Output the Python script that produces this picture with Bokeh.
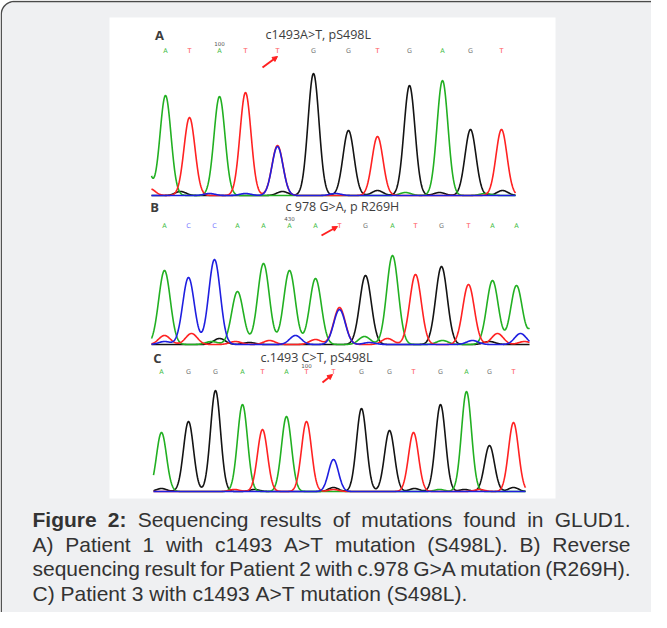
import numpy as np
from bokeh.plotting import figure
from bokeh.models import Range1d, Arrow, NormalHead
from bokeh.core.properties import value
from bokeh.embed import file_html
from bokeh.resources import INLINE

# ---------------- data ----------------
# Panel A
A_calls = ["A", "T", "A", "T", "T", "G", "G", "T", "G", "A", "G", "T"]
A_call_scan = [14, 38, 68, 94, 126, 162, 197, 226, 258, 291, 319, 350]
A_call_height = [100, 78, 99, 103, 50, 122, 65, 59, 110, 115, 66, 66]
A_extra_base = ["C", "A", "T", "G", "C", "C", "G", "C", "G", "A", "G", "A", "G"]
A_extra_scan = [126, -9, -2, 29, 58, 94, 131, 184, 226, 254, 288, 334, 351]
A_extra_height = [49, 60, 7, 4, 2, 2, 4, 2, 5, 3, 3, 2, 5]
A_title = "c1493A>T, pS498L"
A_number = "100"

# Panel B
B_calls = ["A", "C", "C", "A", "A", "A", "A", "T", "G", "A", "T", "G", "T", "A", "A"]
B_call_scan = [13, 37, 63, 86, 112, 138, 164, 188, 214, 241, 264, 290, 317, 341, 365]
B_call_height = [74, 67, 85, 53, 81, 74, 66, 37, 69, 89, 70, 78, 60, 64, 59]
B_extra_base = ["C", "T", "C", "T", "G", "A", "T", "G", "T", "C", "T", "A", "T", "C",
                "A", "C", "G", "T", "C", "T", "A"]
B_extra_scan = [188, 13, 13, 40, 68, 60, 84, 98, 118, 144, 164, 213, 236, 218,
                291, 321, 338, 346, 369, 373, 386]
B_extra_height = [35, 9, 3, 11, 6, 3, 3, 2, 4, 9, 5, 8, 6, 2, 4, 4, 3, 11, 11, 3, 30]
B_title = "c 978 G>A, p R269H"
B_number = "430"

# Panel C
C_calls = ["A", "G", "G", "A", "T", "A", "T", "T", "G", "G", "T", "G", "A", "G", "T"]
C_call_scan = [8, 35, 62, 89, 109, 133, 153, 180, 208, 236, 260, 287, 313, 336, 360]
C_call_height = [59, 70, 101, 87, 62, 75, 70, 2, 83, 61, 59, 87, 100, 46, 69]
C_extra_base = ["C", "G", "T", "G", "G", "G", "A", "G", "T", "G"]
C_extra_scan = [180, 8, 81, 101, 180, 261, 286, 311, 326, 360]
C_extra_height = [32, 3, 2, 2, 4, 3, 2, 2, 2, 4]
C_title = "c.1493 C>T, pS498L"
C_number = "100"

caption_lines = [
    "Figure 2: Sequencing results of mutations found in GLUD1.",
    "A) Patient 1 with c1493 A>T mutation (S498L). B) Reverse",
    "sequencing result for Patient 2 with c.978 G>A mutation (R269H).",
    "C) Patient 3 with c1493 A>T mutation (S498L).",
]

# ---------------- styles / layout ----------------
W, H = 651, 612
TRACE_COL = {"A": "#22b022", "C": "#1f1fe0", "G": "#141414", "T": "#ff2222"}
CALL_COL = {"A": "#3cbb3c", "C": "#7b7bff", "G": "#777777", "T": "#ff4a4a"}
DRAW_ORDER = ["G", "A", "T", "C"]

panels = [
    dict(label="A", calls=A_calls, cs=A_call_scan, ch=A_call_height,
         eb=A_extra_base, es=A_extra_scan, eh=A_extra_height, title=A_title,
         number=A_number, num_idx=2, mut_idx=4,
         x0=151, base=195, length=364, sigma=5.5,
         label_xy=(159, 34), title_x=265, letters_y=50, num_y=43,
         arrow=((-15, 17), (0, 6))),
    dict(label="B", calls=B_calls, cs=B_call_scan, ch=B_call_height,
         eb=B_extra_base, es=B_extra_scan, eh=B_extra_height, title=B_title,
         number=B_number, num_idx=5, mut_idx=7,
         x0=151, base=344, length=378, sigma=5.8,
         label_xy=(154, 206), title_x=285, letters_y=225, num_y=218,
         arrow=((-18, 10), (-2, 1))),
    dict(label="C", calls=C_calls, cs=C_call_scan, ch=C_call_height,
         eb=C_extra_base, es=C_extra_scan, eh=C_extra_height, title=C_title,
         number=C_number, num_idx=6, mut_idx=7,
         x0=153, base=491, length=372, sigma=5.0,
         label_xy=(157, 357), title_x=260, letters_y=371, num_y=365,
         arrow=((-11, 11), (-1, 3))),
]

p = figure(width=W, height=H, x_range=Range1d(0, W), y_range=Range1d(H, 0),
           x_axis_type=None, y_axis_type=None, toolbar_location=None,
           output_backend="svg", min_border=0, outline_line_color=None,
           background_fill_color="white", border_fill_color="white")
p.grid.visible = False

# rounded outer box
r = 13
L, T, R, B = 0.75, 1.0, W + 20, H + 20
ang = np.linspace(np.pi, 1.5 * np.pi, 20)
bx = list(L + r + r * np.cos(ang)) + [R - r] 
by = list(T + r + r * np.sin(ang)) + [T]
ang2 = np.linspace(1.5 * np.pi, 2 * np.pi, 20)
bx += list(R - r + r * np.cos(ang2)) + [R, L]
by += list(T + r + r * np.sin(ang2)) + [B, B]
p.patch(bx, by, fill_color="#eff0f2", line_color="#4a4a4a", line_width=1.4)

# white image area
p.quad(left=[109], right=[555], top=[17], bottom=[498], fill_color="white", line_color=None)

for pn in panels:
    scan = np.arange(0, pn["length"] + 0.5, 0.5)
    sig = np.zeros((4, scan.size))
    chans = "ACGT"
    bases = list(pn["calls"]) + list(pn["eb"])
    pos = list(pn["cs"]) + list(pn["es"])
    hts = list(pn["ch"]) + list(pn["eh"])
    for b, s, h in zip(bases, pos, hts):
        sig[chans.index(b)] += h * np.exp(-((scan - s) ** 2) / (2 * pn["sigma"] ** 2))
    xs = pn["x0"] + scan
    for b in DRAW_ORDER:
        p.line(xs, pn["base"] - sig[chans.index(b)], line_color=TRACE_COL[b],
               line_width=1.6, line_join="round")
    # base calls
    cx = [pn["x0"] + s for s in pn["cs"]]
    p.text(cx, [pn["letters_y"]] * len(cx), text=pn["calls"],
           text_color=[CALL_COL[c] for c in pn["calls"]], text_font=value("DejaVu Sans"),
           text_font_size="6.5px", text_align="center", text_baseline="middle")
    # numbering
    p.text([cx[pn["num_idx"]]], [pn["num_y"]], text=[pn["number"]], text_color="#555555",
           text_font=value("DejaVu Sans"), text_font_size="5.5px",
           text_align="center", text_baseline="middle")
    # label and title
    p.text([pn["label_xy"][0]], [pn["label_xy"][1]], text=[pn["label"]], text_color="#3d3d3d",
           text_font=value("Open Sans"), text_font_size="13px", text_font_style="bold",
           text_align="center", text_baseline="middle")
    p.text([pn["title_x"]], [pn["label_xy"][1]], text=[pn["title"]], text_color="#3d3d3d",
           text_font=value("Open Sans"), text_font_size="12.5px",
           text_align="left", text_baseline="middle")
    # arrow
    mx = cx[pn["mut_idx"]]
    (tdx, tdy), (hdx, hdy) = pn["arrow"]
    p.add_layout(Arrow(x_start=mx + tdx, y_start=pn["letters_y"] + tdy,
                       x_end=mx + hdx, y_end=pn["letters_y"] + hdy,
                       line_color="#ff2020", line_width=2,
                       end=NormalHead(size=5, fill_color="#ff2020", line_color="#ff2020")))

# caption (justified, word by word)
REG = {' ': 278, '(': 333, ')': 333, '.': 278, ':': 278, ',': 278, '>': 584,
       'A': 667, 'B': 667, 'C': 722, 'D': 722, 'E': 667, 'F': 611, 'G': 778, 'H': 722,
       'I': 278, 'L': 556, 'M': 833, 'P': 667, 'R': 722, 'S': 667, 'T': 611, 'U': 722,
       'a': 556, 'b': 556, 'c': 500, 'd': 556, 'e': 556, 'f': 278, 'g': 556, 'h': 556,
       'i': 222, 'l': 222, 'm': 833, 'n': 556, 'o': 556, 'p': 556, 'q': 556, 'r': 333,
       's': 500, 't': 278, 'u': 556, 'v': 500, 'w': 722, 'x': 500, 'y': 500}
BOLD = {'F': 611, 'i': 278, 'g': 611, 'u': 611, 'r': 389, 'e': 556, '2': 556, ':': 333}
FS = 21
CAP_LEFT, CAP_RIGHT = 32, 630
cap_y = [519, 544, 568, 593]
nbold = 2
wx, wy, wt, wb = [], [], [], []
for li, line in enumerate(caption_lines):
    words = line.split(" ")
    bold_flags = [(li == 0 and k < nbold) for k in range(len(words))]
    widths = []
    for w, bf in zip(words, bold_flags):
        tab = BOLD if bf else REG
        widths.append(sum(tab.get(ch, REG.get(ch, 556)) for ch in w) * FS / 1000)
    if li < len(caption_lines) - 1:
        gap = (CAP_RIGHT - CAP_LEFT - sum(widths)) / (len(words) - 1)
    else:
        gap = 0.278 * FS
    x = CAP_LEFT
    for w, bf, ww in zip(words, bold_flags, widths):
        wx.append(x); wy.append(cap_y[li]); wt.append(w); wb.append("bold" if bf else "normal")
        x += ww + gap

p.text(wx, wy, text=wt, text_font_style=wb, text_color="#333333",
       text_font=value("Liberation Sans"), text_font_size=f"{FS}px",
       text_align="left", text_baseline="middle")

open("out.html", "w").write(file_html(p, INLINE))
